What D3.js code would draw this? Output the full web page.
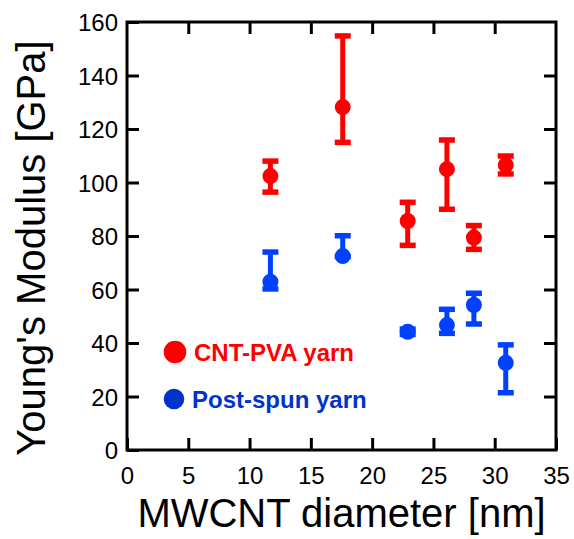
<!DOCTYPE html>
<html>
<head>
<meta charset="utf-8">
<script src="https://cdn.jsdelivr.net/npm/d3@7"></script>
<style>
  html, body { margin: 0; padding: 0; background: #fff; }
  svg { display: block; }
  text { font-family: "Liberation Sans", Arial, sans-serif; }
</style>
</head>
<body>
<svg id="chart" width="574" height="539"></svg>
<script>
// ---- data ----
const diameters   = [11.7, 17.6, 22.9, 26.1, 28.3, 30.9];
const pvaMean     = [102.4, 128.2, 85.6, 105.0, 79.4, 106.5];
const pvaUpper    = [108.0, 154.8, 92.6, 115.9, 83.9, 109.9];
const pvaLower    = [96.4, 115.0, 76.5, 90.0, 75.0, 103.2];
const postMean    = [62.9, 72.5, 44.2, 46.7, 54.2, 32.6];
const postUpper   = [74.0, 80.1, 45.2, 52.6, 58.6, 39.3];
const postLower   = [60.2, 72.3, 43.2, 43.6, 47.1, 21.4];
const xTicks = [0, 5, 10, 15, 20, 25, 30, 35];
const yTicks = [0, 20, 40, 60, 80, 100, 120, 140, 160];
const seriesNames = ["CNT-PVA yarn", "Post-spun yarn"];

// ---- layout ----
const svg = d3.select("#chart");
const mLeft = 127, mRight = 556, mTop = 22, mBottom = 450;
const x = d3.scaleLinear().domain([0, 35]).range([mLeft, mRight]);
const y = d3.scaleLinear().domain([0, 160]).range([mBottom, mTop]);

const tickLen = 12;
const axisStroke = 3;

const styleAxis = g => {
  g.selectAll(".domain").remove();
  g.selectAll(".tick line").attr("stroke", "#000").attr("stroke-width", axisStroke);
  g.selectAll(".tick text").attr("fill", "#000").style("font-size", "24px")
    .style("font-family", "'Liberation Sans', Arial, sans-serif");
};

svg.append("g").attr("transform", `translate(0,${mBottom})`)
  .call(d3.axisBottom(x).tickValues(xTicks).tickFormat(d3.format("d")).tickSizeInner(-tickLen).tickSizeOuter(0).tickPadding(12))
  .call(styleAxis)
  .call(g => g.selectAll(".tick text").attr("dy", null).attr("y", 34));

svg.append("g").attr("transform", `translate(${mLeft},0)`)
  .call(d3.axisLeft(y).tickValues(yTicks).tickFormat(d3.format("d")).tickSizeInner(-tickLen).tickSizeOuter(0).tickPadding(9))
  .call(styleAxis)
  .call(g => g.selectAll(".tick text").attr("dy", "0.36em"));

svg.append("g").attr("transform", `translate(0,${mTop})`)
  .call(d3.axisTop(x).tickValues(xTicks.slice(1, -1)).tickFormat("").tickSizeInner(-tickLen).tickSizeOuter(0))
  .call(styleAxis);

svg.append("g").attr("transform", `translate(${mRight},0)`)
  .call(d3.axisRight(y).tickValues(yTicks.slice(1, -1)).tickFormat("").tickSizeInner(-tickLen).tickSizeOuter(0))
  .call(styleAxis);

svg.append("rect")
  .attr("x", mLeft).attr("y", mTop)
  .attr("width", mRight - mLeft).attr("height", mBottom - mTop)
  .attr("fill", "none").attr("stroke", "#000").attr("stroke-width", axisStroke);

svg.append("text")
  .attr("x", (mLeft + mRight) / 2).attr("y", 527)
  .attr("text-anchor", "middle")
  .style("font-size", "40px")
  .text("MWCNT diameter [nm]");

svg.append("text")
  .attr("transform", `translate(45,${(mTop + mBottom) / 2 + 12}) rotate(-90)`)
  .attr("text-anchor", "middle")
  .style("font-size", "40px")
  .text("Young's Modulus [GPa]");

function drawSeries(mean, upper, lower, color) {
  const data = diameters.map((d, i) => ({ d, m: mean[i], hi: upper[i], lo: lower[i] }));
  const g = svg.append("g");
  const capW = 8;
  g.selectAll("line.stem").data(data).join("line").attr("class", "stem")
    .attr("x1", p => x(p.d)).attr("x2", p => x(p.d))
    .attr("y1", p => y(p.hi)).attr("y2", p => y(p.lo))
    .attr("stroke", color).attr("stroke-width", 5);
  g.selectAll("line.capTop").data(data).join("line").attr("class", "capTop")
    .attr("x1", p => x(p.d) - capW).attr("x2", p => x(p.d) + capW)
    .attr("y1", p => y(p.hi)).attr("y2", p => y(p.hi))
    .attr("stroke", color).attr("stroke-width", 5.5);
  g.selectAll("line.capBot").data(data).join("line").attr("class", "capBot")
    .attr("x1", p => x(p.d) - capW).attr("x2", p => x(p.d) + capW)
    .attr("y1", p => y(p.lo)).attr("y2", p => y(p.lo))
    .attr("stroke", color).attr("stroke-width", 5.5);
  g.selectAll("circle").data(data).join("circle")
    .attr("cx", p => x(p.d)).attr("cy", p => y(p.m))
    .attr("r", 8).attr("fill", color);
}

drawSeries(pvaMean, pvaUpper, pvaLower, "#ff0000");
drawSeries(postMean, postUpper, postLower, "#0040ff");

const legend = [
  { name: seriesNames[0], color: "#ff0000", cx: 175, cy: 352, r: 11.3, tx: 194, ty: 361 },
  { name: seriesNames[1], color: "#0033cc", cx: 174, cy: 399, r: 10.3, tx: 192, ty: 408 }
];
const lg = svg.append("g");
lg.selectAll("circle").data(legend).join("circle")
  .attr("cx", d => d.cx).attr("cy", d => d.cy).attr("r", d => d.r).attr("fill", d => d.color);
lg.selectAll("text").data(legend).join("text")
  .attr("x", d => d.tx).attr("y", d => d.ty)
  .attr("fill", d => d.color)
  .style("font-size", "24px").style("font-weight", "bold")
  .text(d => d.name);
</script>
</body>
</html>
